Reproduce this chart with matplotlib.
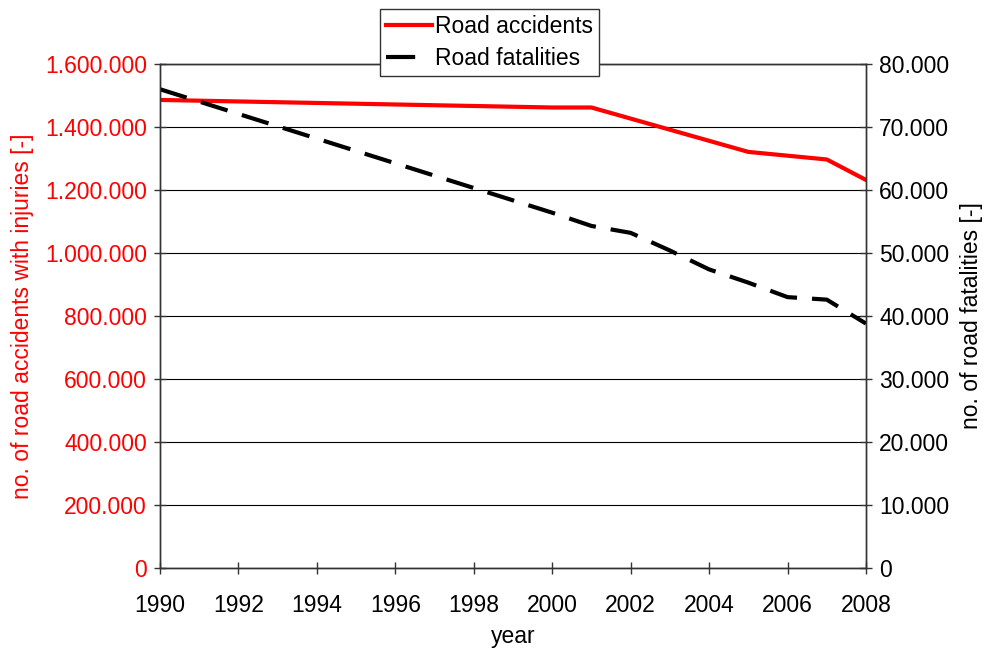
import matplotlib
matplotlib.use('Agg')
import matplotlib.pyplot as plt
from matplotlib.lines import Line2D
from matplotlib.ticker import FuncFormatter, MultipleLocator

# --- datos ---
years_acc = [1990, 2000, 2001, 2005, 2007, 2008]
accidents = [1486000, 1462000, 1462000, 1321000, 1297000, 1232000]

years_fat = [1990, 2000, 2001, 2002, 2003, 2004, 2005, 2006, 2007, 2008]
fatalities = [76000, 56400, 54300, 53200, 50400, 47400, 45300, 43000, 42600, 38800]

plt.rcParams['font.family'] = ['Liberation Sans', 'DejaVu Sans']
plt.rcParams['font.size'] = 16.5


def miles(v, pos):
    # separador de miles con punto
    return f"{v:,.0f}".replace(',', '.')


fig = plt.figure(figsize=(9.87, 6.52), dpi=100)
ax = fig.add_axes([0.1621, 0.1288, 0.7153, 0.7730])
ax2 = ax.twinx()

ax.plot(years_acc, accidents, color='#FF0000', linewidth=3, label='Road accidents')
ax2.plot(years_fat, fatalities, color='black', linewidth=3, dashes=(6.7, 3.6),
         dash_capstyle='butt', label='Road fatalities')

ax.set_xlim(1990, 2008)
ax.set_ylim(0, 1600000)
ax2.set_ylim(0, 80000)
ax.xaxis.set_major_locator(MultipleLocator(2))
ax.yaxis.set_major_locator(MultipleLocator(200000))
ax2.yaxis.set_major_locator(MultipleLocator(10000))
ax.yaxis.set_major_formatter(FuncFormatter(miles))
ax2.yaxis.set_major_formatter(FuncFormatter(miles))

# grid horizontal fino
ax.grid(True, axis='y', color='black', linewidth=0.8)
ax.set_axisbelow(True)

for a in (ax, ax2):
    for s in a.spines.values():
        s.set_color('#333333')
        s.set_linewidth(1)
ax.tick_params(axis='both', direction='inout', length=9, width=1, color='#333333')
ax.tick_params(axis='y', labelcolor='#FF0000', pad=5)
ax2.tick_params(axis='y', direction='inout', length=9, width=1, color='#333333', pad=5)
ax.tick_params(axis='x', pad=14)

ax.set_xlabel('year', labelpad=6)
ax.set_ylabel('no. of road accidents with injuries [-]', color='#FF0000', labelpad=8)
ax2.set_ylabel('no. of road fatalities [-]', color='black', labelpad=8)

# leyenda: el guion negro muestra un solo trazo
h1 = Line2D([], [], color='#FF0000', linewidth=3)
h2 = Line2D([], [], color='black', linewidth=3, dashes=(7, 20), dash_capstyle='butt')
leg = fig.legend(handles=[h1, h2], labels=['Road accidents', 'Road fatalities'],
                 loc='upper left', bbox_to_anchor=(380 / 987, 1 - 9 / 652),
                 fancybox=False, framealpha=1, edgecolor='#333333', handlelength=2.0,
                 handletextpad=0.15, labelspacing=0.4, borderpad=0.25, borderaxespad=0)
leg.get_frame().set_linewidth(1)

fig.savefig('out.png', dpi=100, facecolor='white')
